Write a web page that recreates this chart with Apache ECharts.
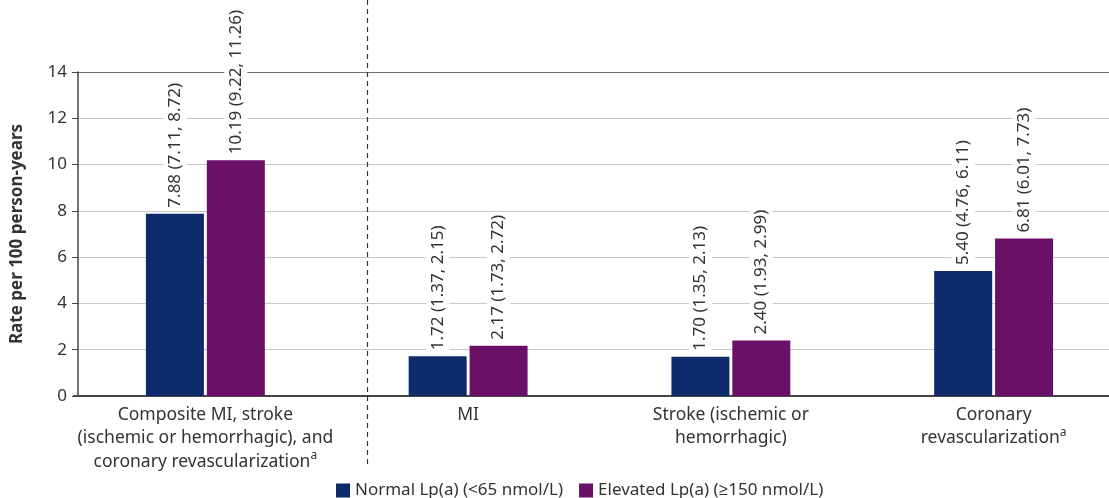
<!DOCTYPE html>
<html>
<head>
<meta charset="utf-8">
<script src="https://cdn.jsdelivr.net/npm/echarts@6/dist/echarts.min.js"></script>
<style>
  html, body { margin: 0; padding: 0; background: #fff; }
  #chart { width: 1109px; height: 498px; }
</style>
</head>
<body>
<div id="chart"></div>
<script>
// Event categories (line breaks are part of the axis labels)
const categories = [
  'Composite MI, stroke\n(ischemic or hemorrhagic), and\ncoronary revascularization',
  'MI',
  'Stroke (ischemic or\nhemorrhagic)',
  'Coronary\nrevascularization'
];
const footnotes = ['a', '', '', 'a'];

// Rate per 100 person-years with 95% CI
const normalRate  = [7.88, 1.72, 1.70, 5.40];
const normalLow   = [7.11, 1.37, 1.35, 4.76];
const normalHigh  = [8.72, 2.15, 2.13, 6.11];

const elevatedRate = [10.19, 2.17, 2.40, 6.81];
const elevatedLow  = [9.22, 1.73, 1.93, 6.01];
const elevatedHigh = [11.26, 2.72, 2.99, 7.73];

const seriesNames = ['Normal Lp(a) (<65 nmol/L)', 'Elevated Lp(a) (\u2265150 nmol/L)'];
const yTicks = [0, 2, 4, 6, 8, 10, 12, 14];

const FONT = '"Noto Sans", "Open Sans", sans-serif';
const TEXT = '#333333';

const chart = echarts.init(document.getElementById('chart'));

function ciLabel(rates, lows, highs) {
  return function (p) {
    const i = p.dataIndex;
    return rates[i].toFixed(2) + ' (' + lows[i].toFixed(2) + ', ' + highs[i].toFixed(2) + ')';
  };
}

const barLabel = {
  show: true,
  position: 'top',
  rotate: 90,
  align: 'left',
  verticalAlign: 'middle',
  distance: 5,
  color: TEXT,
  fontFamily: FONT,
  fontSize: 17,
  backgroundColor: '#ffffff',
  padding: [3, 1]
};

chart.setOption({
  animation: false,
  textStyle: { fontFamily: FONT, color: TEXT },
  grid: { left: 74, right: -16, top: 72, bottom: 102, containLabel: false, outerBoundsMode: 'none' },
  legend: {
    left: 331,
    top: 477,
    icon: 'rect',
    itemWidth: 14,
    itemHeight: 14,
    itemGap: 16,
    textStyle: { fontFamily: FONT, fontSize: 17, color: TEXT },
    data: seriesNames
  },
  xAxis: {
    type: 'category',
    data: categories,
    axisLine: { show: true, lineStyle: { color: '#444', width: 2 } },
    axisTick: { show: false },
    axisLabel: {
      interval: 0,
      margin: 7,
      fontFamily: FONT,
      fontSize: 17.5,
      lineHeight: 23.5,
      color: TEXT,
      formatter: function (value, idx) {
        return footnotes[idx] ? value + '{sup|' + footnotes[idx] + '}' : value;
      },
      rich: {
        sup: { fontSize: 12, fontFamily: FONT, color: TEXT, verticalAlign: 'top', lineHeight: 23.5, padding: [0, 0, 10, 0] }
      }
    }
  },
  yAxis: {
    type: 'value',
    min: yTicks[0],
    max: yTicks[yTicks.length - 1],
    interval: 2,
    offset: -4,
    name: 'Rate per 100 person-years',
    nameLocation: 'middle',
    nameGap: 52,
    nameTextStyle: { fontFamily: FONT, fontSize: 17, fontWeight: 'bold', color: TEXT },
    axisLine: { show: true, lineStyle: { color: '#444', width: 1.5 } },
    axisTick: { show: true, length: 6, lineStyle: { color: '#444', width: 1 } },
    axisLabel: { margin: 11, fontFamily: FONT, fontSize: 17, color: TEXT },
    splitLine: {
      show: true,
      lineStyle: {
        color: ['#c8c8c8', '#c8c8c8', '#c8c8c8', '#c8c8c8', '#c8c8c8', '#c8c8c8', '#c8c8c8', '#6e6e6e'],
        width: 1.2
      }
    }
  },
  series: [
    {
      name: seriesNames[0],
      type: 'bar',
      data: normalRate,
      barWidth: 58,
      barGap: '5%',
      itemStyle: { color: '#0f2a6a' },
      label: Object.assign({}, barLabel, { formatter: ciLabel(normalRate, normalLow, normalHigh) })
    },
    {
      name: seriesNames[1],
      type: 'bar',
      data: elevatedRate,
      barWidth: 58,
      barGap: '5%',
      itemStyle: { color: '#6a1066' },
      label: Object.assign({}, barLabel, { formatter: ciLabel(elevatedRate, elevatedLow, elevatedHigh) })
    }
  ],
  // Dashed divider separating the composite outcome from its components
  graphic: [{
    type: 'line',
    shape: { x1: 367.5, y1: 0, x2: 367.5, y2: 467 },
    style: { stroke: '#333', lineWidth: 1.2, lineDash: [5, 4] },
    z: 100
  }]
});
</script>
</body>
</html>
